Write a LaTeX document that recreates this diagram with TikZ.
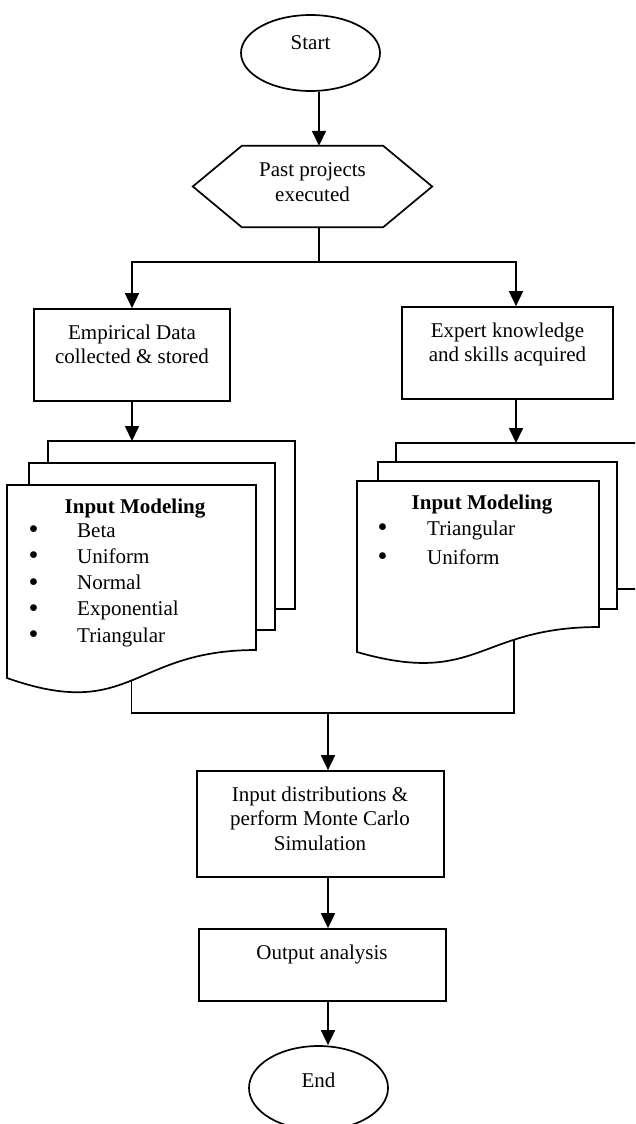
\documentclass[tikz,border=0pt]{standalone}
\usepackage{graphicx}
\usepackage{fontspec}
\setmainfont{Liberation Serif}
\usetikzlibrary{arrows.meta,shapes.geometric}

% bullet followed by an indented entry
\newcommand\bigdot{\raisebox{-1.5pt}{\scalebox{1.35}{\textbullet}}}
\newcommand\bulletentry[2][47.5pt]{\makebox[#1][l]{\hspace{-1pt}\bigdot}#2}

\begin{document}
\begin{tikzpicture}[x=1pt,y=-1pt,
  line/.style={line width=1.7pt},
  arr/.style={line, -{Triangle[width=14pt,length=15pt]}},
  box/.style={draw, line width=1.7pt, inner sep=0pt},
  oval/.style={ellipse, draw, line width=1.7pt, inner sep=0pt, minimum width=139pt},
  txt/.style={font=\fontsize{21}{24.5}\selectfont, align=center, inner sep=0pt},
  lst/.style={inner sep=0pt, align=left},
]
\fill[white] (0,0) rectangle (635,1124);
\useasboundingbox (0,0) rectangle (635,1124);
\clip (0,0) rectangle (635,1124);

% ---- start ----
\node[oval, minimum height=76pt] (start) at (310.5,53) {};
\node[txt, anchor=base] (starttxt) at (310.5,50) {Start};

% ---- preparation (hexagon) ----
\node[inner sep=0pt, minimum width=239pt, minimum height=81pt] (past) at (312.5,186.5) {};
\draw[line] (past.west) -- ([xshift=49pt]past.north west) -- ([xshift=-49pt]past.north east)
  -- (past.east) -- ([xshift=-49pt]past.south east) -- ([xshift=49pt]past.south west) -- cycle;
% multi-line texts are placed by the baseline of their last line
\node[txt, anchor=base] (pasttxt) at (312.5,201) {Past projects\\executed};

\coordinate (trunk) at (319,0);
\draw[arr] (start.south -| trunk) -- (past.north -| trunk);

% ---- two sources ----
\node[box, minimum width=196pt, minimum height=92pt] (emp) at (132,355) {};
\node[txt, anchor=base] (emptxt) at (132,363.5) {Empirical Data\\collected \& stored};
\node[box, minimum width=211pt, minimum height=92pt] (exp) at (507.5,353) {};
\node[txt, anchor=base] (exptxt) at (507.5,361.5) {Expert knowledge\\and skills acquired};

\coordinate (split) at (319,262);
\draw[line] (past.south -| trunk) -- (split);
\draw[arr] (split) -| (emp.north);
\draw[arr] (split) -| ([xshift=8.5pt]exp.north);

% ---- left document stack ----
\draw[line] (48,463) -- (48,441) coordinate (lbacktl) -- (295,441) -- (295,609) -- (275,609);
\draw[line] (29,485) -- (29,463) -- (275,463) -- (275,630) -- (256,630);
\draw[line] (7,485) -- (256,485) -- (256,650)
  .. controls (131.5,650) and (131.5,722) .. (7,678) coordinate[pos=0.5] (lwave) -- cycle;
\node[txt, font=\fontsize{21}{24.5}\selectfont\bfseries, anchor=base] (ltitle) at (135,513) {Input Modeling};
\node[lst, font=\fontsize{21}{26.3}\selectfont, anchor=base west] (llist) at (29.5,642.2)
  {\bulletentry{Beta}\\\bulletentry{Uniform}\\\bulletentry{Normal}\\\bulletentry{Exponential}\\\bulletentry{Triangular}};
\draw[arr] (emp.south) -- (emp.south |- lbacktl);

% ---- right document stack ----
\draw[line] (396,462) -- (396,443) coordinate (rbacktl) -- (660,443) -- (660,589) -- (617,589);
\draw[line] (378,481) -- (378,462) -- (617,462) -- (617,609) -- (599,609);
\draw[line] (357,481) -- (599,481) -- (599,627)
  .. controls (478,627) and (478,687) .. (357,652) coordinate[pos=0.31] (rwave) -- cycle;
\node[txt, font=\fontsize{21}{24.5}\selectfont\bfseries, anchor=base] (rtitle) at (482,509) {Input Modeling};
\node[lst, font=\fontsize{21}{29}\selectfont, anchor=base west] (rlist) at (378.5,564)
  {\bulletentry[48.5pt]{Triangular}\\\bulletentry[48.5pt]{Uniform}};
\draw[arr] ([xshift=8.5pt]exp.south) -- ([xshift=8.5pt]exp.south |- rbacktl);

% ---- merge and simulation ----
\coordinate (merge) at (328,713);
\draw[line] (lwave) |- (merge) -| (rwave);

\node[box, minimum width=247pt, minimum height=106pt] (sim) at (320.5,824) {};
\node[txt, anchor=base] (simtxt) at (320,850) {Input distributions \&\\perform Monte Carlo\\Simulation};
\draw[arr] (merge) -- (sim.north -| merge);

\node[box, minimum width=247pt, minimum height=72pt] (out) at (322.5,965) {};
\node[txt, anchor=base] (outtxt) at (322,959) {Output analysis};
\draw[arr] (sim.south -| merge) -- (out.north -| merge);

% ---- end ----
\node[oval, minimum height=84pt] (end) at (318.5,1088) {};
\node[txt, anchor=base] (endtxt) at (318.5,1087) {End};
\draw[arr] (out.south -| merge) -- (end.north -| merge);
\end{tikzpicture}
\end{document}
